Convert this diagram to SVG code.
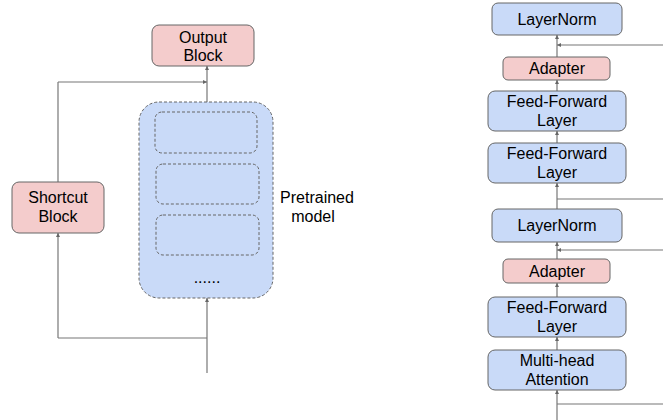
<svg xmlns="http://www.w3.org/2000/svg" width="663" height="420" viewBox="0 0 663 420">
  <style>
    text { font-family: "Liberation Sans", Arial, sans-serif; font-size: 16px; fill: #000; text-anchor: middle; }
    .blue { fill: #c9daf8; stroke: #666; stroke-width: 1; }
    .pink { fill: #f4cccc; stroke: #666; stroke-width: 1; }
    .dash { fill: #c9daf8; stroke: #666; stroke-width: 1; stroke-dasharray: 3 2; }
    .dashin { fill: none; stroke: #666; stroke-width: 1; stroke-dasharray: 3 2; }
    .wire { fill: none; stroke: #777; stroke-width: 1.2; }
    .arr { marker-end: url(#head); }
  </style>
  <defs>
    <marker id="head" viewBox="0 0 8 8" refX="8" refY="4" markerWidth="4" markerHeight="4" orient="auto" markerUnits="userSpaceOnUse">
      <path d="M0,0 L8,4 L0,8 z" fill="#666"/>
    </marker>
  </defs>
  <rect width="663" height="420" fill="#fff"/>

  <!-- connectors -->
  <g id="connectors">
    <!-- left: residual around the pretrained model -->
    <path class="wire arr" d="M207,373 V298"/>
    <path class="wire" d="M207,338 H58"/>
    <path class="wire arr" d="M58,338 V233"/>
    <path class="wire" d="M58,182 V82"/>
    <path class="wire arr" d="M58,82 H207"/>
    <path class="wire arr" d="M207,102 V66"/>
    <!-- right: transformer layer with adapters -->
    <path class="wire arr" d="M557,420 V390"/>
    <path class="wire" d="M557,404 H663"/>
    <path class="wire arr" d="M557,350 V337"/>
    <path class="wire arr" d="M557,297 V283"/>
    <path class="wire arr" d="M557,259 V242"/>
    <path class="wire arr" d="M663,250 H557"/>
    <path class="wire arr" d="M557,209 V183"/>
    <path class="wire" d="M557,199 H663"/>
    <path class="wire arr" d="M557,143 V131"/>
    <path class="wire arr" d="M557,91 V80"/>
    <path class="wire arr" d="M557,57 V35"/>
    <path class="wire arr" d="M663,45 H557"/>
  </g>

  <!-- left diagram -->
  <g id="output-block">
    <rect class="pink" x="152" y="25" width="102" height="41" rx="7"/>
    <text x="203" y="43">Output</text>
    <text x="203" y="61">Block</text>
  </g>
  <g id="shortcut-block">
    <rect class="pink" x="12" y="182" width="92" height="51" rx="7"/>
    <text x="58" y="203">Shortcut</text>
    <text x="58" y="222">Block</text>
  </g>
  <g id="pretrained-model">
    <rect class="dash" x="139" y="102" width="134" height="196" rx="20"/>
    <rect class="dashin" x="155" y="112" width="102" height="41" rx="7"/>
    <rect class="dashin" x="156" y="164" width="103" height="40" rx="7"/>
    <rect class="dashin" x="156" y="215" width="103" height="40" rx="7"/>
    <text x="207" y="283">......</text>
    <text x="317" y="203">Pretrained</text>
    <text x="313" y="222">model</text>
  </g>

  <!-- right diagram -->
  <g id="layernorm-top">
    <rect class="blue" x="492" y="3" width="130" height="32" rx="6"/>
    <text x="557" y="25">LayerNorm</text>
  </g>
  <g id="adapter-top">
    <rect class="pink" x="503" y="57" width="107" height="23" rx="5"/>
    <text x="557" y="74">Adapter</text>
  </g>
  <g id="ffn-top-2">
    <rect class="blue" x="488" y="91" width="138" height="40" rx="7"/>
    <text x="557" y="107">Feed-Forward</text>
    <text x="557" y="126">Layer</text>
  </g>
  <g id="ffn-top-1">
    <rect class="blue" x="488" y="143" width="138" height="40" rx="7"/>
    <text x="557" y="159">Feed-Forward</text>
    <text x="557" y="178">Layer</text>
  </g>
  <g id="layernorm-bottom">
    <rect class="blue" x="492" y="209" width="130" height="33" rx="6"/>
    <text x="557" y="231">LayerNorm</text>
  </g>
  <g id="adapter-bottom">
    <rect class="pink" x="503" y="259" width="107" height="24" rx="5"/>
    <text x="557" y="277">Adapter</text>
  </g>
  <g id="ffn-bottom">
    <rect class="blue" x="488" y="297" width="138" height="40" rx="7"/>
    <text x="557" y="313">Feed-Forward</text>
    <text x="557" y="332">Layer</text>
  </g>
  <g id="attention">
    <rect class="blue" x="488" y="350" width="138" height="40" rx="7"/>
    <text x="557" y="366">Multi-head</text>
    <text x="557" y="385">Attention</text>
  </g>
</svg>
